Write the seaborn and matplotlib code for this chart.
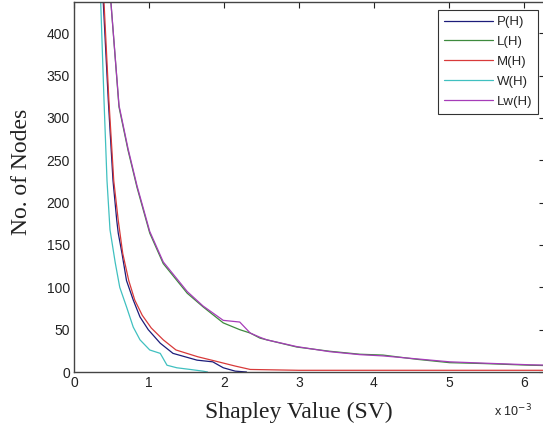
import numpy as np
import pandas as pd
import matplotlib
matplotlib.use('Agg')
import matplotlib.pyplot as plt
import seaborn as sns
from matplotlib.ticker import FuncFormatter, MultipleLocator

sns.set_style('white')
plt.rcParams['font.family'] = ['Liberation Sans', 'DejaVu Sans']

# Shapley values in units of 1e-3, number of nodes
p_sv = [0.35, 0.39, 0.457, 0.52, 0.57, 0.59, 0.64, 0.70, 0.79, 0.88, 0.99, 1.15, 1.32, 1.64, 1.85, 1.99, 2.15, 2.30]
p_nodes = [510, 437, 321, 226, 179, 164, 140, 108, 85, 65, 50, 34, 22, 14, 12, 5, 1, 0]

l_sv = [0.44, 0.49, 0.60, 0.72, 0.84, 1.01, 1.19, 1.51, 1.72, 1.99, 2.21, 2.35, 2.48, 2.57, 2.97, 3.41, 3.81, 4.12, 4.57, 5.01, 5.45, 6.08, 6.35]
l_nodes = [500, 439, 313, 262, 218, 164, 128, 93, 77, 58, 50, 46, 40, 38, 29.5, 24.5, 21, 20, 15, 11, 10, 8, 7.5]

m_sv = [0.36, 0.40, 0.465, 0.53, 0.59, 0.65, 0.73, 0.81, 0.91, 1.03, 1.19, 1.36, 1.65, 1.88, 2.15, 2.35, 3.0, 4.0, 5.0, 6.35]
m_nodes = [510, 437, 321, 226, 179, 140, 108, 85, 67, 52, 38, 26, 18, 13, 7, 3, 2, 2, 2, 2]

w_sv = [0.32, 0.356, 0.40, 0.44, 0.48, 0.55, 0.61, 0.70, 0.79, 0.88, 1.01, 1.15, 1.24, 1.37, 1.55, 1.72, 1.78]
w_nodes = [520, 437, 321, 226, 168, 129, 100, 77, 53, 38, 26, 22, 8, 5, 3, 1, 0]

lw_sv = [0.44, 0.49, 0.60, 0.72, 0.84, 1.01, 1.19, 1.51, 1.72, 1.99, 2.21, 2.35, 2.48, 2.57, 2.97, 3.41, 3.81, 4.12, 4.57, 5.01, 5.45, 6.08, 6.35]
lw_nodes = [500, 439, 315, 264, 220, 166, 130, 95, 78, 61, 59, 46, 41, 38, 30, 24, 20.5, 19, 15.5, 12, 10.5, 8.5, 8]

labels = ['P(H)', 'L(H)', 'M(H)', 'W(H)', 'Lw(H)']
colors = ['#1c1c7a', '#3d8a3d', '#d83a3a', '#40c0c0', '#a63cb8']

series = [(p_sv, p_nodes), (l_sv, l_nodes), (m_sv, m_nodes), (w_sv, w_nodes), (lw_sv, lw_nodes)]
frames = []
for lab, (sv, n) in zip(labels, series):
    frames.append(pd.DataFrame({'sv': np.array(sv) * 1e-3, 'nodes': n, 'series': lab}))
df = pd.concat(frames, ignore_index=True)

fig = plt.figure(figsize=(5.43, 4.37), dpi=100)
ax = fig.add_axes([74 / 543, 65 / 437, 471 / 543, 370 / 437])

sns.lineplot(data=df, x='sv', y='nodes', hue='series', hue_order=labels,
             palette=colors, estimator=None, sort=False, linewidth=0.9, ax=ax)

ax.set_xlim(0, 6.28e-3)
ax.set_ylim(0, 437)
ax.xaxis.set_major_locator(MultipleLocator(1e-3))
ax.yaxis.set_major_locator(MultipleLocator(50))
ax.xaxis.set_major_formatter(FuncFormatter(lambda v, pos: '%d' % round(v * 1e3)))
ax.tick_params(direction='in', length=4, width=0.8, top=True, right=True,
               labelsize=10, colors='#222222', pad=3)
for s in ax.spines.values():
    s.set_color('#444444')
    s.set_linewidth(1.0)

ax.set_xlabel('Shapley Value (SV)', family=['Liberation Serif', 'DejaVu Serif'],
              fontsize=17, color='#222222')
ax.set_ylabel('No. of Nodes', family=['Liberation Serif', 'DejaVu Serif'],
              fontsize=17, color='#222222')
ax.xaxis.set_label_coords(0.478, -0.08)
ax.yaxis.set_label_coords(-0.09, 0.54)

fig.text(494 / 543, 1 - 416 / 437, r'x 10$^{-3}$', fontsize=9, color='#222222')

leg = ax.legend(loc='upper right', bbox_to_anchor=(538 / 543, 1 - 10 / 437),
                bbox_transform=fig.transFigure, fontsize=9.5, frameon=True,
                fancybox=False, edgecolor='black', handlelength=3.7,
                handletextpad=0.3, labelspacing=0.58, borderpad=0.45,
                borderaxespad=0)
leg.get_frame().set_linewidth(0.8)
for h in leg.get_lines():
    h.set_linewidth(0.9)

fig.savefig('out.png', dpi=100)
